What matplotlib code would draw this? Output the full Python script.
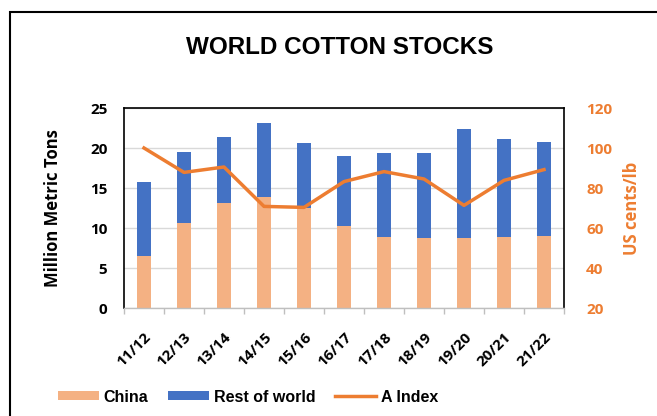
import matplotlib
matplotlib.use("Agg")
import matplotlib.pyplot as plt
import numpy as np
from matplotlib.patches import Rectangle, Patch
from matplotlib.lines import Line2D

seasons = ["11/12", "12/13", "13/14", "14/15", "15/16", "16/17",
           "17/18", "18/19", "19/20", "20/21", "21/22"]
china = [6.5, 10.6, 13.1, 13.9, 12.5, 10.2, 8.9, 8.7, 8.8, 8.9, 9.0]
total = [15.8, 19.5, 21.4, 23.1, 20.6, 19.0, 19.4, 19.4, 22.4, 21.1, 20.8]
rest_of_world = [t - c for t, c in zip(total, china)]
a_index = [100.0, 87.8, 90.5, 70.8, 70.3, 83.2, 88.2, 84.5, 71.3, 83.8, 89.2]

C_CHINA = "#F4B183"
C_ROW = "#4472C4"
C_IDX = "#ED7D31"

W, H = 657, 416
fig = plt.figure(figsize=(W / 100, H / 100), dpi=100)
ax = fig.add_axes([124 / W, 1 - 308 / H, (564 - 124) / W, (308 - 108) / H])

x = np.arange(len(seasons))
ax.bar(x, china, width=0.34, color=C_CHINA, zorder=2)
ax.bar(x, rest_of_world, bottom=china, width=0.34, color=C_ROW, zorder=2)
ax.set_xlim(-0.5, len(seasons) - 0.5)
ax.set_ylim(0, 25)
ax.set_yticks([0, 5, 10, 15, 20, 25])
ax.yaxis.grid(True, color="#D9D9D9", lw=1, zorder=0)
ax.set_axisbelow(True)

tickfont = dict(family="Open Sans", weight="bold", size=11)
ax.set_yticklabels([str(v) for v in [0, 5, 10, 15, 20, 25]], **tickfont)
ax.tick_params(axis="y", length=0, pad=12)

ax.set_xticks(x)
ax.set_xticklabels(seasons, rotation=45, ha="right", rotation_mode="anchor", **tickfont)
ax.tick_params(axis="x", which="major", length=0, pad=16)
ax.set_xticks(np.arange(-0.5, len(seasons)), minor=True)
ax.tick_params(axis="x", which="minor", length=4, color="#BFBFBF", width=1)

for s in ["left", "top", "right"]:
    ax.spines[s].set_color("black")
    ax.spines[s].set_linewidth(1.2)
ax.spines["bottom"].set_color("#BFBFBF")
ax.spines["bottom"].set_linewidth(1)

ax.set_ylabel("Million Metric Tons", family="Open Sans", weight="bold", size=12, labelpad=20)

ax2 = ax.twinx()
ax2.plot(x, a_index, color=C_IDX, lw=2.5, zorder=3)
ax2.set_ylim(20, 120)
ax2.set_yticks([20, 40, 60, 80, 100, 120])
ax2.set_yticklabels([str(v) for v in [20, 40, 60, 80, 100, 120]], color=C_IDX, **tickfont)
ax2.tick_params(axis="y", length=0, pad=16)
for s in ax2.spines.values():
    s.set_visible(False)
ax2.set_ylabel("US cents/lb", family="Open Sans", weight="bold", size=12, color=C_IDX, labelpad=8)

fig.text(340 / W, 1 - 47 / H, "WORLD COTTON STOCKS", ha="center", va="center",
         family="Liberation Sans", weight="bold", size=17.5)

handles = [Patch(facecolor=C_CHINA, edgecolor="none"),
           Patch(facecolor=C_ROW, edgecolor="none"),
           Line2D([0], [0], color=C_IDX, lw=2.5)]
fig.legend(handles, ["China", "Rest of world", "A Index"], loc="center",
           bbox_to_anchor=(248 / W, 1 - 397 / H), ncol=3, frameon=False,
           prop=dict(family="Liberation Sans", weight="bold", size=11.5),
           handlelength=2.6, handleheight=0.5, handletextpad=0.3, columnspacing=1.2)

fig.patches.append(Rectangle((10 / W, -0.1), 1.2, 1 - 12 / H + 0.1, transform=fig.transFigure,
                             fill=False, edgecolor="black", lw=1.5))

fig.savefig("out.png", dpi=100)
